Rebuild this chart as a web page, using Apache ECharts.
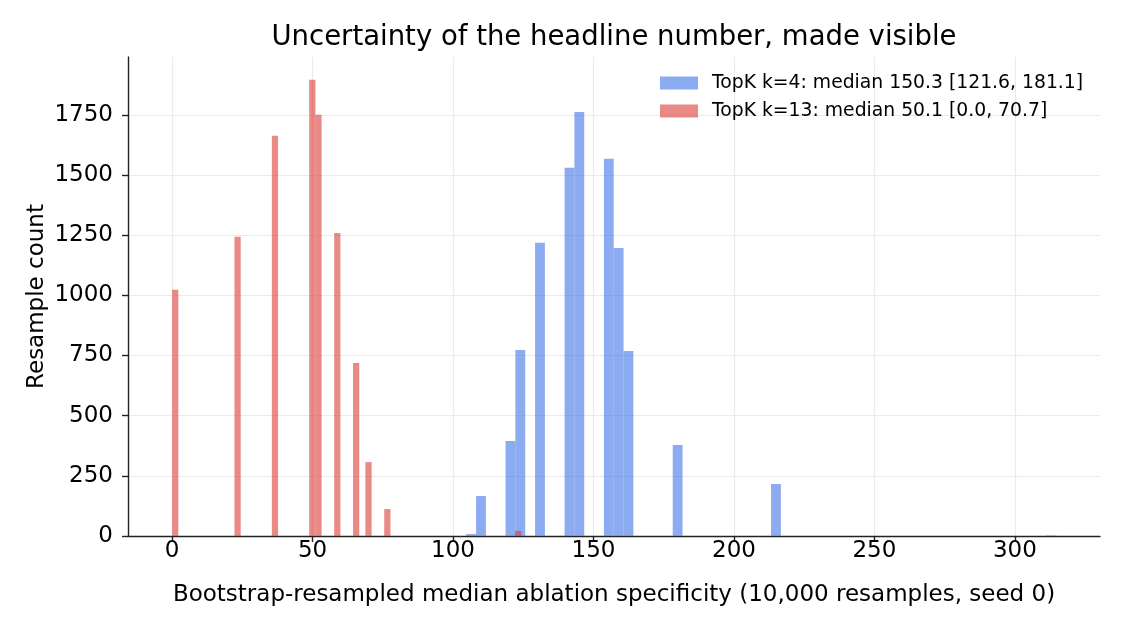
<!DOCTYPE html>
<html>
<head>
<meta charset="utf-8">
<script src="https://cdn.jsdelivr.net/npm/echarts@6/dist/echarts.min.js"></script>
<style>
  html, body { margin: 0; padding: 0; background: #fff; }
  #chart { width: 1125px; height: 630px; }
</style>
</head>
<body>
<div id="chart"></div>
<script>
// histogram bins: left edge of each bin and its count
const k4Edges = [104.7, 108.2, 118.7, 122.2, 129.2, 139.7, 143.2, 153.7, 157.2, 160.7, 178.2, 213.2, 311.2]
const k4Counts = [8, 166, 395, 773, 1218, 1530, 1762, 1567, 1197, 769, 378, 216, 2]
const k4BinWidth = 3.5

const k13Edges = [0, 22.2, 35.5, 48.8, 51.0, 57.7, 64.4, 68.8, 75.5, 122.1]
const k13Counts = [1023, 1243, 1663, 1895, 1750, 1259, 719, 307, 112, 21]
const k13BinWidth = 2.22

const xTicks = [0, 50, 100, 150, 200, 250, 300]
const yTicks = [0, 250, 500, 750, 1000, 1250, 1500, 1750]

const seriesNames = [
  'TopK k=4: median 150.3 [121.6, 181.1]',
  'TopK k=13: median 50.1 [0.0, 70.7]'
]

const BLUE = 'rgba(65,115,230,0.6)'
const RED = 'rgba(220,60,55,0.6)'
const FONT = 'DejaVu Sans'

function histSeries(name, edges, counts, width, color) {
  return {
    name: name,
    type: 'custom',
    itemStyle: { color: color },
    encode: { x: 0, y: 1 },
    data: edges.map((e, i) => [e, counts[i]]),
    renderItem(params, api) {
      const x0 = api.value(0)
      const h = api.value(1)
      const p0 = api.coord([x0, 0])
      const p1 = api.coord([x0 + width, h])
      return {
        type: 'rect',
        shape: { x: p0[0], y: p1[1], width: p1[0] - p0[0], height: p0[1] - p1[1] },
        style: { fill: color }
      }
    }
  }
}

const chart = echarts.init(document.getElementById('chart'), null, { renderer: 'canvas' })

const axisLineStyle = { color: '#222', width: 1.4 }
const gridLine = { show: true, lineStyle: { color: '#ebebeb', width: 1.2 } }
const plain = v => String(v)

chart.setOption({
  animation: false,
  backgroundColor: '#fff',
  textStyle: { fontFamily: FONT },
  title: {
    text: 'Uncertainty of the headline number, made visible',
    left: 614,
    textAlign: 'center',
    top: 24,
    padding: 0,
    textStyle: { fontFamily: FONT, fontSize: 27.5, fontWeight: 'normal', color: '#000' }
  },
  legend: {
    orient: 'vertical',
    left: 660,
    top: 73,
    padding: 0,
    itemWidth: 38,
    itemHeight: 13,
    itemGap: 8,
    icon: 'rect',
    data: seriesNames,
    textStyle: { fontFamily: FONT, fontSize: 18.8, color: '#000', lineHeight: 20, padding: [0, 0, 0, 9] }
  },
  grid: { left: 128, right: 25, top: 57, bottom: 94 },
  xAxis: {
    type: 'value',
    min: -15.7,
    max: 330.3,
    name: 'Bootstrap-resampled median ablation specificity (10,000 resamples, seed 0)',
    nameLocation: 'middle',
    nameGap: 48,
    nameTextStyle: { fontFamily: FONT, fontSize: 23, color: '#000' },
    axisLine: { show: true, onZero: false, lineStyle: axisLineStyle },
    axisTick: { show: true, length: 6, lineStyle: axisLineStyle, customValues: xTicks },
    axisLabel: { fontFamily: FONT, fontSize: 23, color: '#000', margin: 4, formatter: plain, customValues: xTicks },
    splitLine: gridLine
  },
  yAxis: {
    type: 'value',
    min: 0,
    max: 1990,
    name: 'Resample count',
    nameLocation: 'middle',
    nameGap: 79,
    nameMoveOverlap: false,
    nameTextStyle: { fontFamily: FONT, fontSize: 23, color: '#000' },
    axisLine: { show: true, onZero: false, lineStyle: axisLineStyle },
    axisTick: { show: true, length: 6, lineStyle: axisLineStyle, customValues: yTicks },
    axisLabel: { fontFamily: FONT, fontSize: 23, color: '#000', margin: 15, formatter: plain, customValues: yTicks },
    splitLine: gridLine
  },
  series: [
    histSeries(seriesNames[0], k4Edges, k4Counts, k4BinWidth, BLUE),
    histSeries(seriesNames[1], k13Edges, k13Counts, k13BinWidth, RED)
  ]
})
</script>
</body>
</html>
